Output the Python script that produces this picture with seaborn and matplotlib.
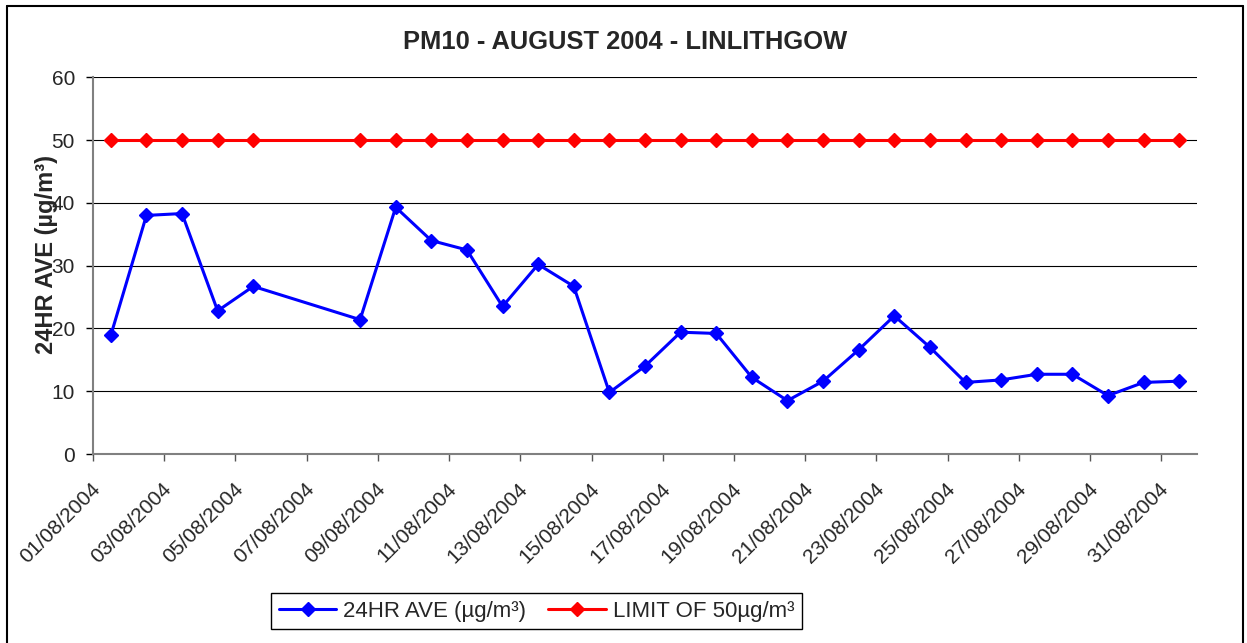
import pandas as pd
import numpy as np
import matplotlib
matplotlib.use('Agg')
import matplotlib.pyplot as plt
import seaborn as sns
from matplotlib.lines import Line2D
from matplotlib.transforms import ScaledTranslation

# ---- data ----
days = list(range(1, 32))
pm10 = [18.9, 38.0, 38.3, 22.8, 26.7, None, None, 21.4, 39.3, 34.0, 32.5,
        23.5, 30.2, 26.7, 9.8, 14.0, 19.4, 19.2, 12.2, 8.5, 11.6, 16.6,
        22.0, 17.0, 11.4, 11.8, 12.7, 12.7, 9.3, 11.4, 11.6]
limit = [50, 50, 50, 50, 50, None, None, 50, 50, 50, 50,
         50, 50, 50, 50, 50, 50, 50, 50, 50, 50, 50,
         50, 50, 50, 50, 50, 50, 50, 50, 50]
label_days = [1, 3, 5, 7, 9, 11, 13, 15, 17, 19, 21, 23, 25, 27, 29, 31]
date_labels = ['01/08/2004', '03/08/2004', '05/08/2004', '07/08/2004',
               '09/08/2004', '11/08/2004', '13/08/2004', '15/08/2004',
               '17/08/2004', '19/08/2004', '21/08/2004', '23/08/2004',
               '25/08/2004', '27/08/2004', '29/08/2004', '31/08/2004']
y_ticks = [0, 10, 20, 30, 40, 50, 60]

PM_LABEL = '24HR AVE (µg/m³)'
LIM_LABEL = 'LIMIT OF 50µg/m³'

df = pd.DataFrame({'day': days, 'pm10': pm10, 'limit': limit})

sns.set_style('white')
plt.rcParams['font.family'] = ['Liberation Sans', 'DejaVu Sans']

fig = plt.figure(figsize=(12.47, 6.43), dpi=100)
ax = fig.add_axes([93 / 1247, 1 - 454 / 643, (1197 - 93) / 1247, (454 - 77.3) / 643])

# Excel joins the line across the missing days
pm = df.dropna(subset=['pm10'])
lim = df.dropna(subset=['limit'])
sns.lineplot(data=pm, x='day', y='pm10', ax=ax, color='#0000FF', lw=2.2,
             marker='D', markersize=7.5, markeredgecolor='#0000FF',
             markeredgewidth=1, label=PM_LABEL, zorder=3)
sns.lineplot(data=lim, x='day', y='limit', ax=ax, color='#FF0000', lw=2.2,
             marker='D', markersize=7.5, markeredgecolor='#FF0000',
             markeredgewidth=1, label=LIM_LABEL, zorder=3)

ax.set_xlim(0.5, 31.5)
ax.set_ylim(0, 60)
ax.set_xlabel('')
ax.set_ylabel('')

# y axis
ax.set_yticks(y_ticks)
ax.tick_params(axis='y', direction='out', length=5, width=1, color='black',
               pad=8, labelsize=15, left=True)
ax.yaxis.grid(True, color='black', lw=0.8)
ax.xaxis.grid(False)

# x axis: tick marks on category boundaries, labels under every 2nd day
ax.set_xticks(label_days)
ax.set_xticklabels(date_labels, rotation=45, ha='right', va='top',
                   rotation_mode='anchor', fontsize=15)
ax.set_xticks(np.arange(0.5, 31, 2), minor=True)
ax.tick_params(axis='x', which='major', length=0, pad=18)
ax.tick_params(axis='x', which='minor', direction='out', length=5, width=1,
               color='#555555', bottom=True)
shift = ScaledTranslation(-0.2, 0, fig.dpi_scale_trans)
for lbl in ax.get_xticklabels():
    lbl.set_transform(lbl.get_transform() + shift)

for side in ['top', 'right']:
    ax.spines[side].set_visible(False)
for side in ['left', 'bottom']:
    ax.spines[side].set_color('#808080')
    ax.spines[side].set_linewidth(1.5)

# legend below the plot
ax.legend(loc='center', bbox_to_anchor=(536.5 / 1247, 1 - 611 / 643),
          bbox_transform=fig.transFigure, ncol=2, fontsize=16, frameon=True,
          fancybox=False, edgecolor='black', framealpha=1, handlelength=2.6,
          columnspacing=1.0, handletextpad=0.3, borderpad=0.35,
          borderaxespad=0)
ax.get_legend().get_frame().set_linewidth(1)

fig.text(0.501, 1 - 42 / 643, 'PM10 - AUGUST 2004 - LINLITHGOW',
         ha='center', va='center', fontsize=18.4, fontweight='bold')
fig.text(47 / 1247, 1 - 255 / 643, PM_LABEL, rotation=90, ha='center',
         va='center', fontsize=17, fontweight='bold')

# outer chart border (bottom edge falls outside the picture)
for xs, ys in [([7, 1243], [6, 6]), ([7, 7], [6, 643]), ([1243, 1243], [6, 643])]:
    fig.add_artist(Line2D([x / 1247 for x in xs], [1 - y / 643 for y in ys],
                          color='black', lw=1.5, transform=fig.transFigure))

plt.savefig('out.png', dpi=100, facecolor='white')
